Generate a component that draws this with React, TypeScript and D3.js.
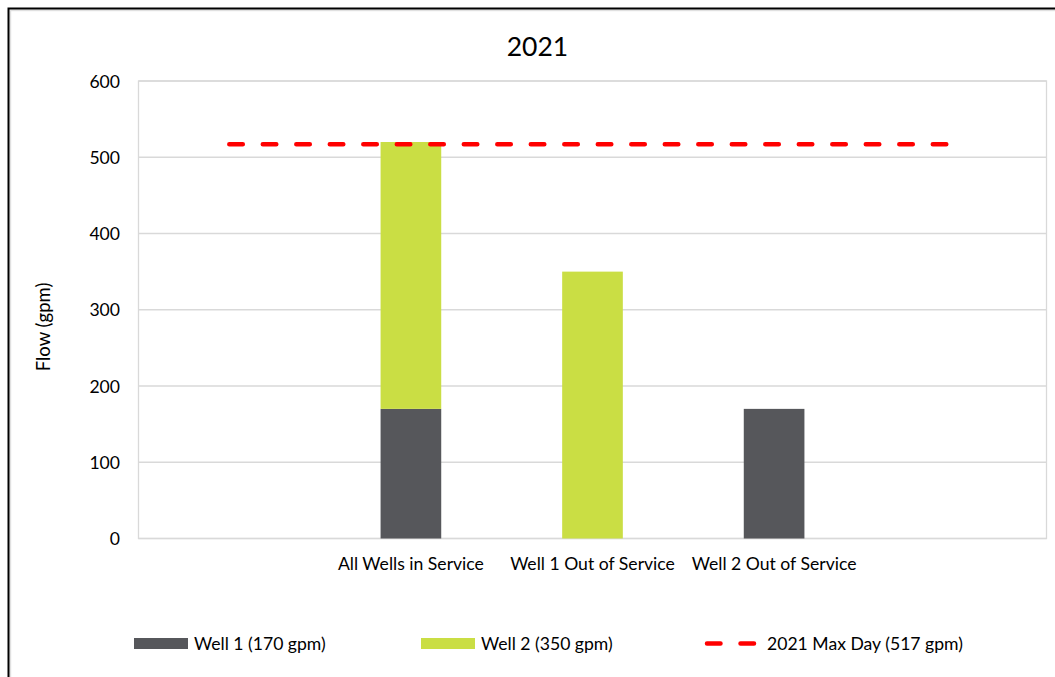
import React from "react";
import * as d3 from "d3";

const title = "2021";
const categories = ["", "All Wells in Service", "Well 1 Out of Service", "Well 2 Out of Service", ""];
const well1 = [0, 170, 0, 170, 0];
const well2 = [0, 350, 350, 0, 0];
const maxDay = [517, 517, 517, 517, 517];
const yTicks = [0, 100, 200, 300, 400, 500, 600];
const seriesNames = ["Well 1 (170 gpm)", "Well 2 (350 gpm)", "2021 Max Day (517 gpm)"];
const yLabel = "Flow (gpm)";

const W = 1055;
const H = 677;
const plot = { left: 138.5, right: 1046.5, top: 81, bottom: 538.5 };
const colors = { well1: "#56575B", well2: "#CADE44", line: "#FF0000", grid: "#D9D9D9" };
const FONT = "Lato, 'Open Sans', sans-serif";
const FS = 17.6;

export default function App() {
  const idx = categories.map((_, i) => String(i));
  const x = d3.scaleBand<string>().domain(idx).range([plot.left, plot.right]).paddingInner(0.666).paddingOuter(0.333);
  const y = d3.scaleLinear().domain([0, 600]).range([plot.bottom, plot.top]);

  const rows = categories.map((c, i) => ({ key: String(i), well1: well1[i], well2: well2[i] }));
  const stacked = d3.stack<any>().keys(["well1", "well2"])(rows);
  const fills: Record<string, string> = { well1: colors.well1, well2: colors.well2 };

  const line = d3
    .line<number>()
    .x((_, i) => (x(String(i)) as number) + x.bandwidth() / 2)
    .y((d) => y(d));

  const legendY = 643.5;

  return (
    <div style={{ position: "absolute", left: 0, top: 0 }}>
      <svg width={W} height={H} style={{ display: "block", background: "#fff" }} fontFamily={FONT}>
        <rect x={0} y={0} width={W} height={H} fill="#fff" />
        {/* outer frame */}
        <rect x={10.3} y={10.3} width={1200} height={800} fill="none" stroke="#E0E0E0" strokeWidth={1.8} />
        <rect x={8.5} y={8.5} width={1200} height={800} fill="none" stroke="#000" strokeWidth={2} />

        <text x={537.5} y={46} textAnchor="middle" dominantBaseline="central" fontSize={26.5} fill="#000">
          {title}
        </text>

        {/* gridlines */}
        {yTicks.map((t) => (
          <line key={t} x1={plot.left} x2={plot.right} y1={y(t)} y2={y(t)} stroke={colors.grid} strokeWidth={1.3} />
        ))}
        <rect
          x={plot.left}
          y={plot.top}
          width={plot.right - plot.left}
          height={plot.bottom - plot.top}
          fill="none"
          stroke={colors.grid}
          strokeWidth={1.3}
        />
        {yTicks.map((t) => (
          <text key={t} x={120} y={y(t)} textAnchor="end" dominantBaseline="central" fontSize={FS} fill="#000">
            {t}
          </text>
        ))}

        {/* bars */}
        {stacked.map((s) =>
          s.map((d, i) =>
            d[1] - d[0] > 0 ? (
              <rect
                key={s.key + i}
                x={x(String(i))}
                y={y(d[1])}
                width={x.bandwidth()}
                height={y(d[0]) - y(d[1])}
                fill={fills[s.key]}
              />
            ) : null
          )
        )}

        {/* max day line */}
        <path
          d={line(maxDay) || ""}
          fill="none"
          stroke={colors.line}
          strokeWidth={4.5}
          strokeDasharray="13.5 20"
          strokeLinecap="round"
        />

        {/* category labels */}
        {categories.map((c, i) =>
          c ? (
            <text
              key={i}
              x={(x(String(i)) as number) + x.bandwidth() / 2}
              y={563}
              textAnchor="middle"
              dominantBaseline="central"
              fontSize={FS}
              fill="#000"
            >
              {c}
            </text>
          ) : null
        )}

        <text
          transform={`translate(43,327) rotate(-90)`}
          textAnchor="middle"
          dominantBaseline="central"
          fontSize={18.5}
          fill="#000"
        >
          {yLabel}
        </text>

        {/* legend */}
        <rect x={134} y={638} width={54} height={11} fill={colors.well1} />
        <text x={194} y={legendY} dominantBaseline="central" fontSize={FS} fill="#000">
          {seriesNames[0]}
        </text>
        <rect x={421} y={638} width={54} height={11} fill={colors.well2} />
        <text x={481} y={legendY} dominantBaseline="central" fontSize={FS} fill="#000">
          {seriesNames[1]}
        </text>
        <line
          x1={707}
          x2={755}
          y1={legendY}
          y2={legendY}
          stroke={colors.line}
          strokeWidth={4.5}
          strokeDasharray="13.5 20"
          strokeLinecap="round"
        />
        <text x={767} y={legendY} dominantBaseline="central" fontSize={FS} fill="#000">
          {seriesNames[2]}
        </text>
      </svg>
    </div>
  );
}
